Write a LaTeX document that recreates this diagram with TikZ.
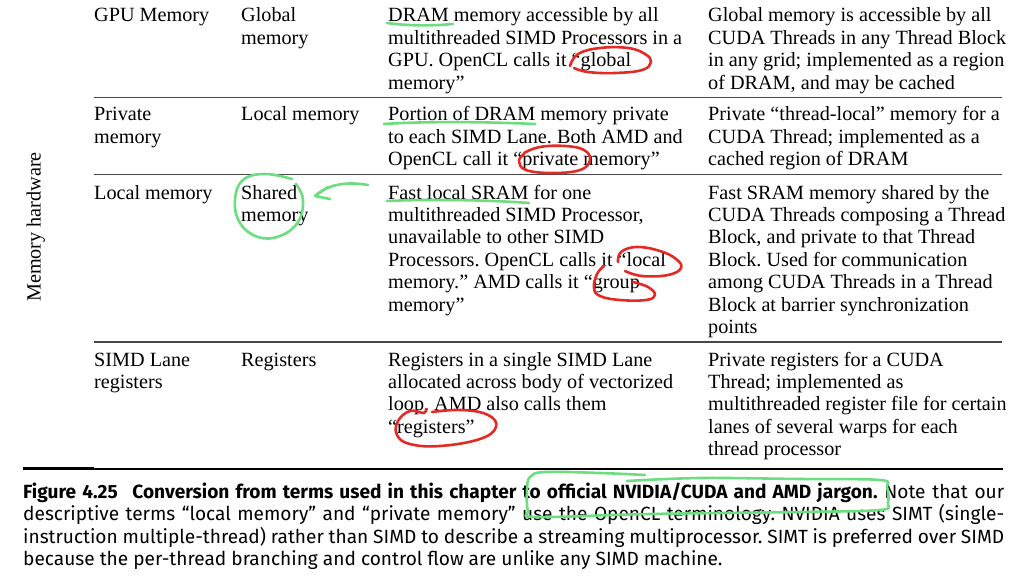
\documentclass[tikz,border=0pt]{standalone}
\usepackage{fontspec}
\setmainfont{Liberation Serif}
\newfontfamily\capfont{Fira Sans}
\definecolor{pen}{RGB}{228,42,36}
\definecolor{hl}{RGB}{108,222,128}
\newcommand\tcell[1]{\parbox[t]{330pt}{\raggedright #1}}
\newlength\capw
\setlength\capw{981pt}
\frenchspacing
\begin{document}
\begin{tikzpicture}[x=1pt,y=-1pt,
  cell/.style={anchor=base west, inner sep=0pt, font=\fontsize{20.2}{22.4}\selectfont},
  rulethin/.style={line width=1.1pt, black!72},
  capline/.style={anchor=base west, inner sep=0pt, font=\capfont\fontsize{19.1}{22.5}\selectfont},
  redink/.style={draw=pen, line width=2.6pt, line cap=round, line join=round},
  greenink/.style={draw=hl, line width=2.6pt, line cap=round, line join=round}]

\path[use as bounding box, fill=white] (0,0) rectangle (1024,583);

% rotated row-group label
\node[rotate=90, anchor=base, inner sep=0pt, font=\fontsize{20.2}{22.4}\selectfont] (grp) at (40.5,227) {Memory hardware};

% row 1
\node[cell] (r1c1) at (94,22) {\tcell{GPU Memory}};
\node[cell] (r1c2) at (241,22) {\tcell{Global\\memory}};
\node[cell] (r1c3) at (388,22) {\tcell{DRAM memory accessible by all\\multithreaded SIMD Processors in a\\GPU. OpenCL calls it “global\\memory”}};
\node[cell] (r1c4) at (708,22) {\tcell{Global memory is accessible by all\\CUDA Threads in any Thread Block\\in any grid; implemented as a region\\of DRAM, and may be cached}};
\draw[rulethin] (94,97.5) -- (1002,97.5);

% row 2
\node[cell] (r2c1) at (94,121) {\tcell{Private\\memory}};
\node[cell] (r2c2) at (241,121) {\tcell{Local memory}};
\node[cell] (r2c3) at (388,121) {\tcell{Portion of DRAM memory private\\to each SIMD Lane. Both AMD and\\OpenCL call it “private memory”}};
\node[cell] (r2c4) at (708,121) {\tcell{Private “thread-local” memory for a\\CUDA Thread; implemented as a\\cached region of DRAM}};
\draw[rulethin] (94,174.5) -- (1002,174.5);

% row 3
\node[cell] (r3c1) at (94,199) {\tcell{Local memory}};
\node[cell] (r3c2) at (241,199) {\tcell{Shared\\memory}};
\node[cell] (r3c3) at (388,199) {\tcell{Fast local SRAM for one\\multithreaded SIMD Processor,\\unavailable to other SIMD\\Processors. OpenCL calls it “local\\memory.” AMD calls it “group\\memory”}};
\node[cell] (r3c4) at (708,199) {\tcell{Fast SRAM memory shared by the\\CUDA Threads composing a Thread\\Block, and private to that Thread\\Block. Used for communication\\among CUDA Threads in a Thread\\Block at barrier synchronization\\points}};
\draw[rulethin] (94,342) -- (1002,342);

% row 4
\node[cell] (r4c1) at (94,366) {\tcell{SIMD Lane\\registers}};
\node[cell] (r4c2) at (241,366) {\tcell{Registers}};
\node[cell] (r4c3) at (388,366) {\tcell{Registers in a single SIMD Lane\\allocated across body of vectorized\\loop. AMD also calls them\\“registers”}};
\node[cell] (r4c4) at (708,366) {\tcell{Private registers for a CUDA\\Thread; implemented as\\multithreaded register file for certain\\lanes of several warps for each\\thread processor}};

% bottom rule
\draw[line width=2pt, black] (23,468.7) -- (1003,468.7);
\draw[line width=3pt, black] (23,468.2) -- (94,468.2);

% caption
\node[capline] (cap1) at (23,498) {\hbox to \capw{\bfseries Figure 4.25\hspace{0.45em} Conversion from terms used in this chapter to official NVIDIA/CUDA and AMD jargon.\mdseries{} Note that our}};
\node[capline] (cap2) at (23,520.5) {\hbox to \capw{descriptive terms “local memory” and “private memory” use the OpenCL terminology. NVIDIA uses SIMT (single-}};
\node[capline] (cap3) at (23,543) {\hbox to \capw{instruction multiple-thread) rather than SIMD to describe a streaming multiprocessor. SIMT is preferred over SIMD}};
\node[capline] (cap4) at (23,565.5) {because the per-thread branching and control flow are unlike any SIMD machine.};

% green annotations
\draw[greenink] (387,23) .. controls (410,26) and (430,26) .. (453,24);
\draw[greenink] (384,124) .. controls (430,121) and (490,122) .. (535,124);
\draw[greenink] (387,201) .. controls (430,199) and (490,200) .. (529,203);
\draw[greenink] plot[smooth, tension=0.7] coordinates {(292,179) (265,174) (243,180) (235,200) (240,223) (258,237) (280,236) (298,222) (303,200) (296,184)};
\coordinate (arrS) at (368,185);
\coordinate (arrT) at (315,196);
\draw[greenink] (arrS) .. controls (345,181) and (327,185) .. (arrT);
\draw[greenink] (328,187) -- (arrT) -- (330,199);
\draw[greenink] plot[smooth, tension=0.6] coordinates {(627,481) (700,478) (800,479) (880,480) (887,487) (888,503) (880,510) (800,512) (650,514) (537,517) (528,511) (527,490) (530,477) (545,472) (600,473) (645,475)};

% red annotations
\draw[redink] plot[smooth, tension=0.7] coordinates {(570,66) (578,54) (600,48) (628,48) (645,54) (651,62) (642,70) (615,73) (588,72) (574,68)};
\draw[redink] plot[smooth, tension=0.7] coordinates {(524,153) (540,147) (565,146) (584,150) (590,160) (580,170) (552,173) (526,170) (519,161) (524,154)};
\draw[redink] plot[smooth, tension=0.7] coordinates {(618,262) (621,252) (637,247) (660,251) (676,259) (681,268) (668,275) (642,276) (625,271)};
\draw[redink] plot[smooth, tension=0.7] coordinates {(604,266) (597,274) (594,288) (600,296) (620,300) (646,300) (655,295) (648,287) (633,282)};
\draw[redink] plot[smooth, tension=0.7] coordinates {(426,409) (424,413) (410,411) (398,421) (397,435) (410,444) (440,446) (480,439) (496,427) (488,415) (462,410) (432,412)};
\end{tikzpicture}
\end{document}
